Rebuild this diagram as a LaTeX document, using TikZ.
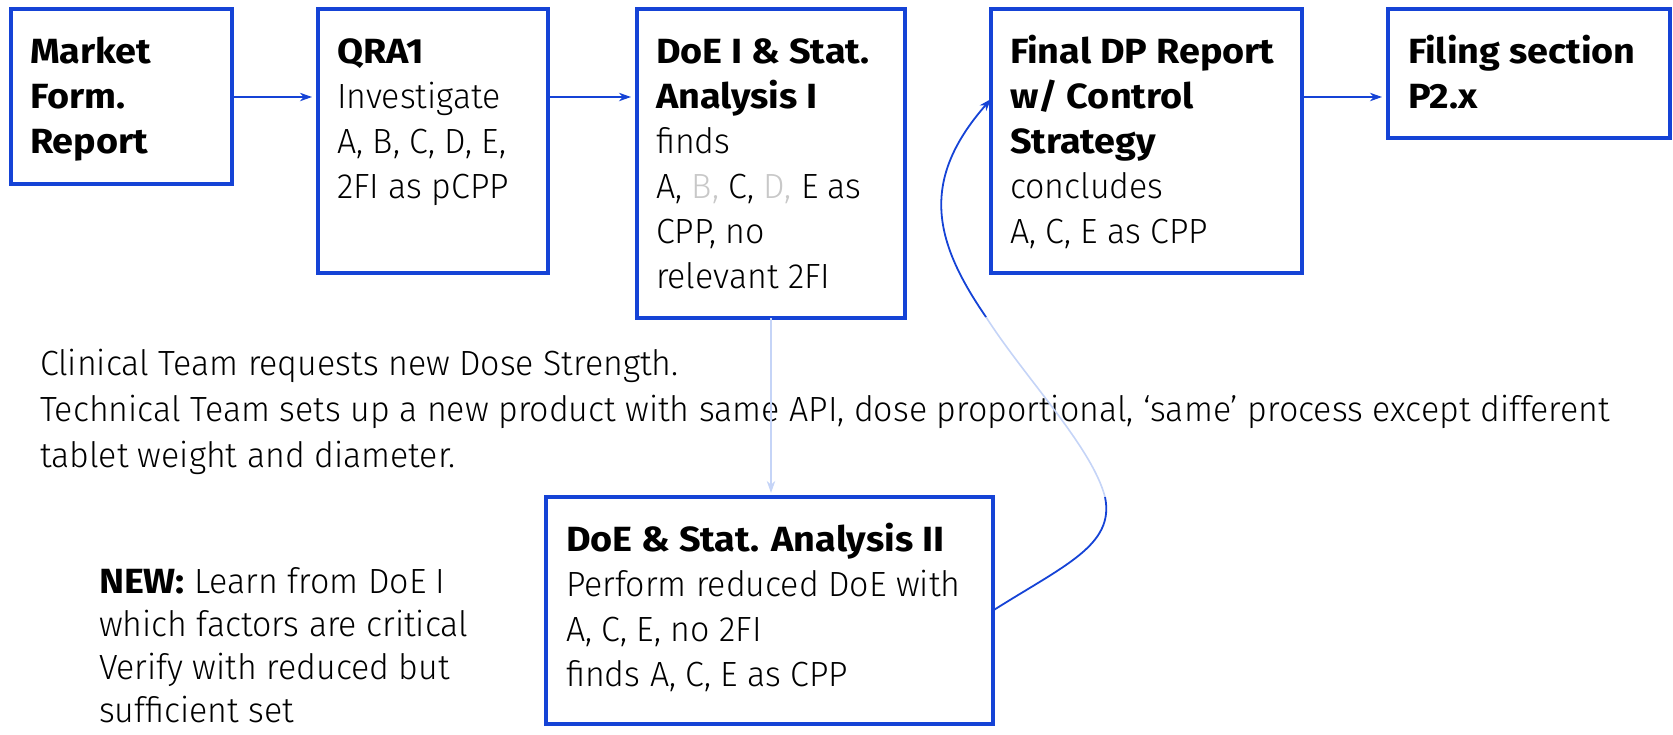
\documentclass[tikz,border=0pt]{standalone}
\usepackage{fontspec}
\setmainfont{Fira Sans}[UprightFont={* Light}, BoldFont={* Bold},
  UprightFeatures={FakeStretch=0.97}, BoldFeatures={FakeStretch=1.08}]
\usetikzlibrary{arrows.meta,fit}

\definecolor{dpblue}{RGB}{21,67,214}
\definecolor{paleblue}{RGB}{197,212,247}
\definecolor{dimgrey}{RGB}{200,200,200}

\newcommand\bodyfont{\fontsize{17.5pt}{22.5pt}\selectfont}
\newcommand\textlines[1]{\begin{tabular}[t]{@{}l@{}}#1\end{tabular}}

\tikzset{
  box/.style={draw=dpblue, line width=2pt, inner sep=0pt, outer sep=0pt},
  txt/.style={inner sep=0pt, outer sep=0pt, anchor=base west, font=\bodyfont},
  tip/.style={-{Stealth[length=6pt,width=4.2pt,inset=1.8pt]}},
  flow/.style={draw=dpblue, line width=0.9pt, tip, shorten >=3pt},
  faint/.style={draw=paleblue, line width=0.8pt},
  curveline/.style={draw=dpblue, line width=0.9pt},
}

\begin{document}
\begin{tikzpicture}[x=0.5pt, y=-0.5pt]
  \useasboundingbox (0,0) rectangle (1673,734);

  % process boxes
  \node[box, fit={(11,9) (232,184)}]   (market) {};
  \node[box, fit={(318,9) (548,273)}]  (qra)    {};
  \node[box, fit={(637,9) (905,318)}]  (doe1)   {};
  \node[box, fit={(991,9) (1302,273)}] (final)  {};
  \node[box, fit={(1388,9) (1670,138)}] (filing) {};
  \node[box, fit={(546,497) (993,724)}] (doe2)  {};

  % box contents
  \node[txt] (market-t) at (30,63)  {\textlines{\textbf{Market}\\ \textbf{Form.}\\ \textbf{Report}}};
  \node[txt] (qra-t)    at (337,63) {\textlines{\textbf{QRA1}\\ Investigate\\ A, B, C, D, E,\\ 2FI as pCPP}};
  \node[txt] (doe1-t)   at (656,63) {\textlines{\textbf{DoE I \& Stat.}\\ \textbf{Analysis I}\\ finds\\
      A, \textcolor{dimgrey}{B, }C, \textcolor{dimgrey}{D, }E as\\ CPP, no\\ relevant 2FI}};
  \node[txt] (final-t)  at (1010,63) {\textlines{\textbf{Final DP Report}\\ \textbf{w/ Control}\\ \textbf{Strategy}\\ concludes\\ A, C, E as CPP}};
  \node[txt] (filing-t) at (1408,63) {\textlines{\textbf{Filing section}\\ \textbf{P2.x}}};
  \node[txt] (doe2-t)   at (566,551) {\textlines{\textbf{DoE \& Stat. Analysis II}\\ Perform reduced DoE with\\ A, C, E, no 2FI\\ finds A, C, E as CPP}};

  % free-standing notes
  \node[txt] (change) at (40,375) {\fontsize{17.5pt}{23pt}\selectfont\textlines{Clinical Team requests new Dose Strength.\\
      Technical Team sets up a new product with same API, dose proportional, ‘same’ process except different\\
      tablet weight and diameter.}};
  \node[txt] (new) at (99,593) {\fontsize{17.5pt}{21.5pt}\selectfont
      \vtop{\hbox{\textbf{NEW:} Learn from DoE I}\hbox{which factors are critical}%
            \hbox{Verify with reduced but}\hbox{sufficient set}}};

  % main flow
  \draw[flow] (market.east |- 0,97) -- (qra.west |- 0,97);
  \draw[flow] (qra.east |- 0,97) -- (doe1.west |- 0,97);
  \draw[flow] (final.east |- 0,97) -- (filing.west |- 0,97);

  % branch to the second DoE
  \draw[faint, tip, shorten >=2pt] (doe1.south) -- (doe1.south |- doe2.north);

  % feedback from the second DoE into the final report
  \coordinate (bendlow)  at (1105,497);
  \coordinate (bendhigh) at (986,317);
  \coordinate (entry)    at (991,99);
  \draw[curveline] (doe2.east) .. controls (1065,565) and (1115,545) .. (bendlow);
  \draw[faint] (bendlow) .. controls (1092,447) and (1025,378) .. (bendhigh);
  \draw[curveline, tip] (bendhigh) .. controls (933,240) and (920,180) .. (entry);
\end{tikzpicture}
\end{document}
